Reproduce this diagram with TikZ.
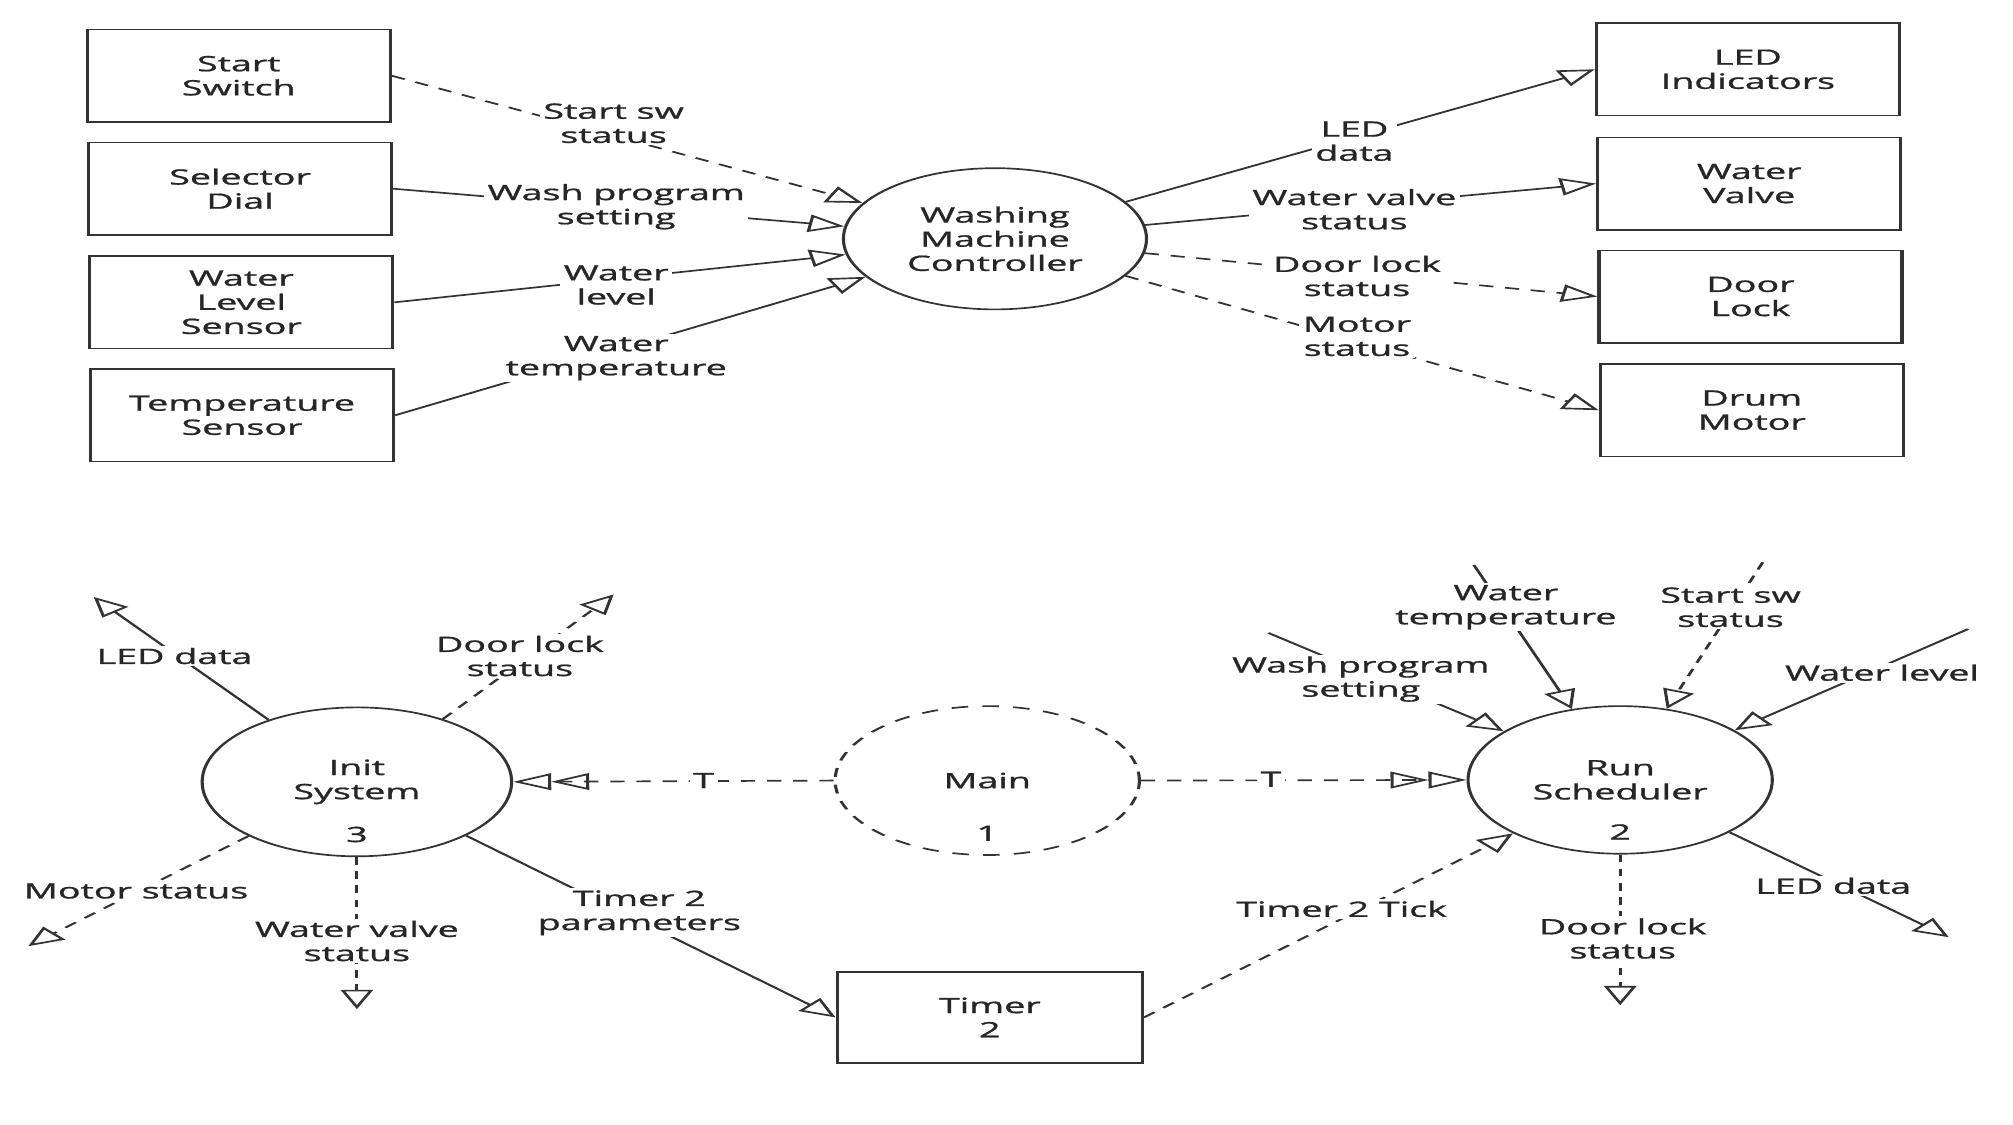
\documentclass[tikz,border=0pt]{standalone}
\usepackage{fontspec}
\setmainfont{Open Sans}[FakeBold=0.9, FakeStretch=0.96]
\usetikzlibrary{arrows.meta,shapes.geometric}
\definecolor{ink}{HTML}{333333}
\definecolor{txt}{HTML}{262626}

\begin{document}
\begin{tikzpicture}[x=1pt,y=-1pt]
\path[use as bounding box, fill=white] (0,0) rectangle (1568,876);
\begin{scope}[transform canvas={xscale=1.85}, x=0.540541pt, y=-1pt,
  font=\fontsize{16.5pt}{18.8pt}\selectfont,
  every node/.style={text=txt, align=center},
  unit/.style={draw=ink, line width=1.3pt, rectangle, minimum width=127.6pt,
    minimum height=72pt, inner sep=0pt},
  proc/.style={draw=ink, line width=1.3pt, ellipse, inner sep=0pt},
  lbl/.style={fill=white, inner sep=1.5pt},
  flow/.style={draw=ink, line width=1.3pt, -{Triangle[open, length=15pt, width=13.5pt]}},
  evt/.style={flow, dash pattern=on 6pt off 5pt},
  ctl/.style={draw=ink, line width=1.3pt, dash pattern=on 6pt off 5pt,
    -{Triangle[open, length=16pt, width=13pt]Triangle[open, length=16pt, width=13pt]}},
]
% ---------- context diagram ----------
\node[unit] (ss) at (186,59) {Start\\Switch};
\node[unit] (sd) at (187,147) {Selector\\Dial};
\node[unit] (wl) at (188,235.5) {Water\\Level\\Sensor};
\node[unit] (ts) at (188.5,323.5) {Temperature\\Sensor};
\node[proc, minimum width=127.6pt, minimum height=110pt] (ctrl) at (775,186) {Washing\\Machine\\Controller};
\node[unit] (li) at (1361.5,54) {LED\\Indicators};
\node[unit] (wv) at (1362.5,143) {Water\\Valve};
\node[unit] (dl) at (1363.5,231) {Door\\Lock};
\node[unit] (dm) at (1364.5,319.5) {Drum\\Motor};

\draw[evt] (ss.east) -- (ctrl);
\draw[flow] (sd.east) -- (ctrl);
\draw[flow] (wl.east) -- (ctrl);
\draw[flow] (ts.east) -- (ctrl);
\draw[flow] (ctrl) -- (li.west);
\draw[flow] (ctrl) -- (wv.west);
\draw[evt] (ctrl) -- (dl.west);
\draw[evt] (ctrl) -- (dm.west);

\node[lbl] (lss) at (478,96) {Start sw\\status};
\node[lbl] (lwp) at (480,161) {Wash program\\setting};
\node[lbl] (lwl) at (480,222) {Water\\level};
\node[lbl] (lwt) at (480,279) {Water\\temperature};
\node[lbl] (lld) at (1055,110) {LED\\data};
\node[lbl] (lwv) at (1055,163) {Water valve\\status};
\node[lbl] (ldl) at (1057,215) {Door lock\\status};
\node[lbl] (lms) at (1057,262) {Motor\\status};

% ---------- process diagram ----------
\node[proc, minimum width=130.3pt, minimum height=116pt] (init) at (278,609) {Init\\System};
\node[proc, dash pattern=on 7pt off 6pt, minimum width=128.1pt, minimum height=116pt] (main) at (769,608) {Main};
\node[proc, minimum width=128.1pt, minimum height=115pt] (run) at (1262,607.5) {Run\\Scheduler};
\node[unit, minimum width=128.6pt, minimum height=71pt] (timer) at (771,792.5) {Timer\\2};
\node (n3) at (278,650) {3};
\node (n1) at (769,649) {1};
\node (n2) at (1262,648) {2};

\coordinate (iled) at (73,465);
\coordinate (idl) at (478,463);
\coordinate (ims) at (22,737);
\coordinate (iwv) at (278,786);
\coordinate (rwp) at (988,493);
\coordinate (rwt) at (1148,440);
\coordinate (rss) at (1373,438);
\coordinate (rwl) at (1533,490);
\coordinate (rled) at (1518,730);
\coordinate (rdl) at (1262,783);

\draw[ctl] (main.west) -- (init.east);
\draw[ctl] (main.east) -- (run.west);
\draw[flow] (init) -- (timer.west);
\draw[evt] (timer.east) -- (run);
\draw[flow] (init) -- (iled);
\draw[evt] (init) -- (idl);
\draw[evt] (init) -- (ims);
\draw[evt] (init) -- (iwv);
\draw[flow] (rwp) -- (run);
\draw[flow] (rwt) -- (run);
\draw[evt] (rss) -- (run);
\draw[flow] (rwl) -- (run);
\draw[flow] (run) -- (rled);
\draw[evt] (run) -- (rdl);

\node[lbl] (lt1) at (548,608) {T};
\node[lbl] (lt2) at (990,607) {T};
\node[lbl] (ltp) at (498,711) {Timer 2\\parameters};
\node[lbl] (ltt) at (1045,708) {Timer 2 Tick};
\node[lbl] (ild) at (136,511) {LED data};
\node[lbl] (idls) at (405,511) {Door lock\\status};
\node[lbl] (imss) at (106,694) {Motor status};
\node[lbl] (iwvs) at (278,733) {Water valve\\status};
\node[lbl] (rwps) at (1060,529) {Wash program\\setting};
\node[lbl] (rwts) at (1173,473) {Water\\temperature};
\node[lbl] (rsss) at (1348,473) {Start sw\\status};
\node[lbl] (rwls) at (1466,524) {Water level};
\node[lbl] (rlds) at (1428,690) {LED data};
\node[lbl] (rdls) at (1264,731) {Door lock\\status};
\end{scope}
\end{tikzpicture}
\end{document}
